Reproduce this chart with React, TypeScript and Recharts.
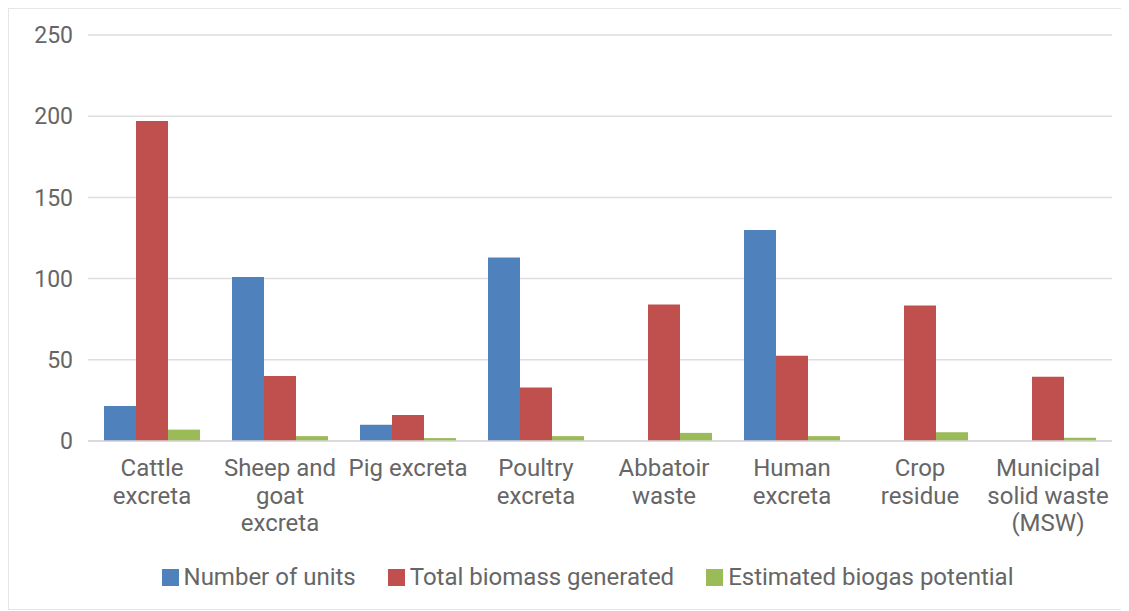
import { BarChart, Bar, CartesianGrid, XAxis, YAxis, Legend } from "recharts";

const categories = [
  "Cattle\nexcreta",
  "Sheep and\ngoat\nexcreta",
  "Pig excreta",
  "Poultry\nexcreta",
  "Abbatoir\nwaste",
  "Human\nexcreta",
  "Crop\nresidue",
  "Municipal\nsolid waste\n(MSW)",
];
const numberOfUnits = [21.5, 101, 10, 113, 0, 130, 0, 0];
const totalBiomass = [197, 40, 16, 33, 84, 52.5, 83.5, 39.5];
const biogasPotential = [7, 3, 1.8, 3, 5, 3, 5.4, 2];
const yTicks = [0, 50, 100, 150, 200, 250];

const series = [
  { key: "units", name: "Number of units", color: "#4F81BD" },
  { key: "biomass", name: "Total biomass generated", color: "#C0504D" },
  { key: "biogas", name: "Estimated biogas potential", color: "#9BBB59" },
];

const data = categories.map((c, i) => ({
  category: c,
  units: numberOfUnits[i],
  biomass: totalBiomass[i],
  biogas: biogasPotential[i],
}));

const FONT = "Roboto, 'Noto Sans', sans-serif";
const TEXT = "#666666";

const CategoryTick = (props: any) => {
  const { x, y, payload } = props;
  const lines = String(payload.value).split("\n");
  return (
    <text x={x} y={y} textAnchor="middle" fill={TEXT} fontSize={24} fontFamily={FONT}>
      {lines.map((l, i) => (
        <tspan key={i} x={x} dy={i === 0 ? 27 : 27.5}>
          {l}
        </tspan>
      ))}
    </text>
  );
};

const LegendContent = () => (
  <div
    style={{
      display: "flex",
      justifyContent: "center",
      alignItems: "center",
      fontFamily: FONT,
      fontSize: 24,
      color: TEXT,
      paddingLeft: 54,
    }}
  >
    {series.map((s, i) => (
      <div key={s.key} style={{ display: "flex", alignItems: "center", marginLeft: i === 0 ? 0 : 32 }}>
        <span style={{ width: 17, height: 17, background: s.color, marginRight: 5, display: "inline-block" }} />
        <span>{s.name}</span>
      </div>
    ))}
  </div>
);

export default function App() {
  return (
    <div style={{ width: 1119, height: 600, border: "1px solid #e6e6e6", background: "#fff" }}>
      <BarChart
        width={1119}
        height={600}
        data={data}
        margin={{ top: 26, right: 16, bottom: 18, left: 0 }}
        barCategoryGap="12.5%"
        barGap={0}
      >
        <CartesianGrid vertical={false} stroke="#dddddd" strokeWidth={1.5} />
        <XAxis
          dataKey="category"
          interval={0}
          height={122}
          tick={<CategoryTick />}
          tickLine={false}
          axisLine={{ stroke: "#d6d6d6", strokeWidth: 1.5 }}
        />
        <YAxis
          width={79}
          domain={[0, 250]}
          ticks={yTicks}
          axisLine={false}
          tickLine={false}
          tickSize={0}
          tickMargin={15}
          tick={{ fill: TEXT, fontSize: 23, fontFamily: FONT }}
        />
        <Legend verticalAlign="bottom" content={<LegendContent />} />
        {series.map((s) => (
          <Bar key={s.key} dataKey={s.key} name={s.name} fill={s.color} isAnimationActive={false} />
        ))}
      </BarChart>
    </div>
  );
}
